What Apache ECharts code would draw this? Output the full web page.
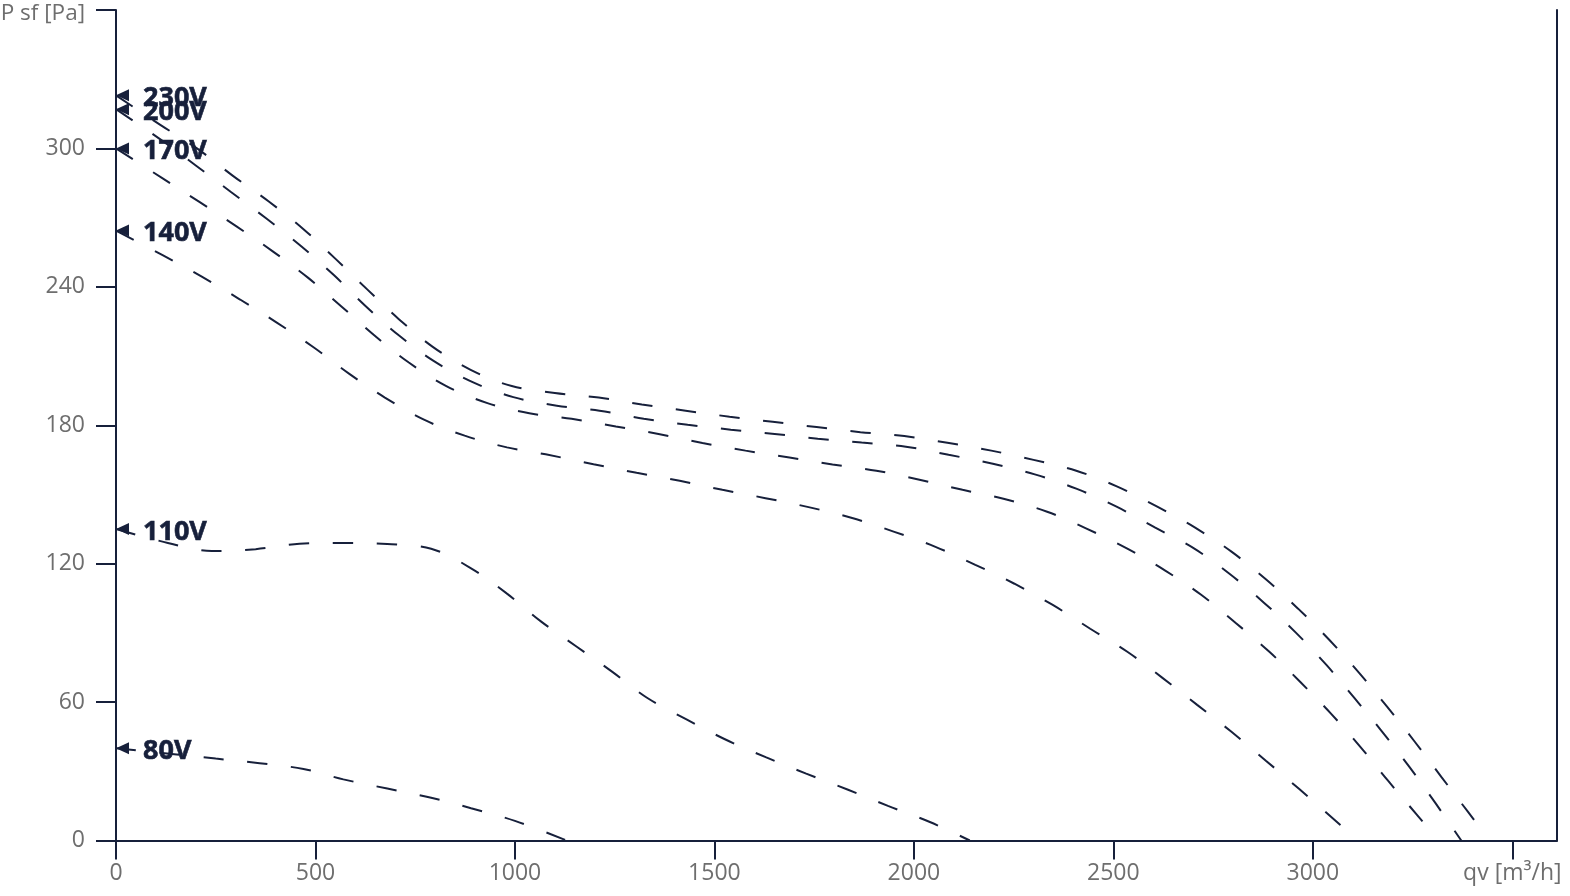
<!DOCTYPE html>
<html><head><meta charset="utf-8">
<script src="https://cdn.jsdelivr.net/npm/echarts@6/dist/echarts.min.js"></script>
<style>html,body{margin:0;padding:0;background:#fff}#c{width:1570px;height:896px}</style>
</head><body><div id="c"></div>
<script>
// Fan curves: static pressure P sf [Pa] vs air flow qv [m3/h]
const voltages = ['230V', '200V', '170V', '140V', '110V', '80V'];

const q230 = [0, 113, 203, 294, 383, 470, 551, 629, 709, 794, 889, 992, 1100, 1210, 1318, 1428, 1538, 1646, 1756, 1866, 1976, 2084, 2194, 2300, 2407, 2510, 2610, 2705, 2796, 2883, 2963, 3041, 3116, 3186, 3256, 3322, 3389, 3430];
const p230 = [323, 310, 300, 288, 277, 265, 252, 239, 226, 214, 204, 197, 194, 192, 189, 186.3, 183.7, 181.5, 179.2, 177, 175.3, 172.4, 169, 165, 160.3, 153.4, 144.7, 135.6, 125.2, 113.1, 100.5, 87, 72.7, 58, 42.7, 27.6, 12.4, 3];

const q200 = [0, 113, 200, 289, 377, 465, 546, 624, 708, 797, 894, 996, 1105, 1212, 1323, 1433, 1541, 1651, 1759, 1869, 1980, 2087, 2198, 2303, 2407, 2508, 2605, 2703, 2791, 2878, 2958, 3034, 3104, 3174, 3242, 3307, 3372];
const p200 = [317, 303.7, 292.6, 281, 269.6, 257.5, 245.1, 231.9, 219.1, 207.8, 198.7, 192.2, 188.5, 186.3, 182.8, 180.2, 178.1, 176.2, 174.2, 172.5, 170.7, 167.2, 163.3, 158.7, 152.5, 144.7, 135.6, 126.5, 115.6, 103, 90, 76.1, 61.8, 47.1, 31.9, 16.3, 0];

const q170 = [0, 117, 209, 302, 392, 481, 565, 648, 734, 828, 931, 1036, 1142, 1253, 1363, 1470, 1578, 1688, 1796, 1906, 2014, 2122, 2227, 2334, 2434, 2535, 2630, 2720, 2806, 2891, 2968, 3046, 3119, 3189, 3261, 3300];
const p170 = [300, 287, 276.8, 266.2, 255.5, 244, 231.5, 218.9, 207.2, 197, 189.6, 185.2, 182.8, 179.5, 176.1, 172.3, 169, 166, 163, 160.3, 156.4, 152, 148, 142.5, 135.1, 126.5, 117, 106.5, 94.4, 81.8, 68.8, 54.9, 40.6, 25.8, 11.1, 3];

const q140 = [0, 118, 215, 311, 403, 496, 584, 674, 772, 874, 980, 1077, 1197, 1305, 1413, 1520, 1628, 1736, 1843, 1951, 2054, 2154, 2252, 2347, 2442, 2535, 2623, 2710, 2796, 2883, 2966, 3049, 3100];
const p140 = [264.4, 253.6, 244.4, 234.5, 224.5, 213.7, 202.4, 192, 182.4, 175.5, 170.4, 167.4, 163.1, 159.4, 155.9, 152, 148.4, 144.5, 139.9, 133.8, 127.3, 119.5, 111.3, 102.2, 91.8, 81.8, 70.5, 58.8, 47.1, 34.5, 22.3, 9.8, 2];

const q110 = [0, 130, 240, 350, 460, 570, 680, 790, 890, 980, 1065, 1155, 1245, 1330, 1430, 1525, 1630, 1730, 1835, 1935, 2040, 2140];
const p110 = [135, 129, 125.5, 126.3, 128.6, 129, 128.5, 126.5, 118, 107, 95, 84, 73, 62, 52.5, 44, 36, 29, 22, 15, 8, 0];

const q80 = [0, 250, 360, 470, 570, 680, 790, 890, 1000, 1130];
const p80 = [40, 35.5, 33.5, 31, 26.5, 22.5, 18.5, 14, 8.5, 0];

const xTicks = [0, 500, 1000, 1500, 2000, 2500, 3000, 3500];
const yTicks = [0, 60, 120, 180, 240, 300, 360];
const xName = 'qv [m³/h]';
const yName = 'P sf [Pa]';

const curvesQ = [q230, q200, q170, q140, q110, q80];
const curvesP = [p230, p200, p170, p140, p110, p80];

const NAVY = '#17203b';
const GREY = '#6e6e6e';
const FONT = "'Open Sans', 'Noto Sans', sans-serif";

const lineSeries = voltages.map((v, i) => ({
  name: v,
  type: 'line',
  smooth: 0.35,
  symbol: 'none',
  silent: true,
  lineStyle: { color: NAVY, width: 2, type: [20, 24] },
  data: curvesQ[i].map((q, k) => [q, curvesP[i][k]]),
  z: 2
}));

const startSeries = {
  type: 'scatter',
  silent: true,
  symbol: 'path://M0,6 L12,0 L12,12 Z',
  symbolSize: [13, 12],
  symbolOffset: [6.5, 0],
  itemStyle: { color: NAVY, opacity: 1 },
  label: {
    show: true, position: 'right', distance: 14, opacity: 1, offset: [0, 3],
    formatter: '{b}',
    color: NAVY, fontFamily: FONT, fontWeight: 'bold', fontSize: 27,
    textBorderColor: NAVY, textBorderWidth: 0.6
  },
  data: voltages.map((v, i) => ({ name: v, value: [curvesQ[i][0], curvesP[i][0]] })),
  z: 5
};

const chart = echarts.init(document.getElementById('c'), null, { renderer: 'canvas' });
chart.setOption({
  animation: false,
  backgroundColor: '#fff',
  grid: { left: 116, right: 13, top: 10, bottom: 55.5, containLabel: false, outerBoundsMode: 'none' },
  xAxis: {
    type: 'value', min: 0, max: 3612, interval: 500,
    axisLine: { show: true, lineStyle: { color: NAVY, width: 2 } },
    axisTick: { show: true, length: 19, lineStyle: { color: NAVY, width: 2 }, customValues: xTicks },
    axisLabel: {
      show: true, margin: 21, color: GREY, fontFamily: FONT, fontSize: 23,
      customValues: xTicks,
      formatter: v => (v === xTicks[xTicks.length - 1] ? xName : String(v))
    },
    splitLine: { show: false }
  },
  yAxis: [{
    type: 'value', min: 0, max: 360, interval: 60,
    axisLine: { show: true, lineStyle: { color: NAVY, width: 2 } },
    axisTick: { show: true, length: 20, lineStyle: { color: NAVY, width: 2 } },
    axisLabel: {
      show: true, margin: 31, color: GREY, fontFamily: FONT, fontSize: 23,
      formatter: v => (v === yTicks[yTicks.length - 1] ? '{n|' + yName + '}' : String(v)),
      rich: { n: { color: GREY, fontFamily: FONT, fontSize: 22.5, padding: [7, 0, 0, 0] } }
    },
    splitLine: { show: false }
  }, {
    type: 'value', min: 0, max: 360, position: 'right',
    axisLine: { show: true, lineStyle: { color: NAVY, width: 2 } },
    axisTick: { show: false }, axisLabel: { show: false }, splitLine: { show: false }
  }],
  series: [...lineSeries, startSeries]
});
</script>
</body></html>
